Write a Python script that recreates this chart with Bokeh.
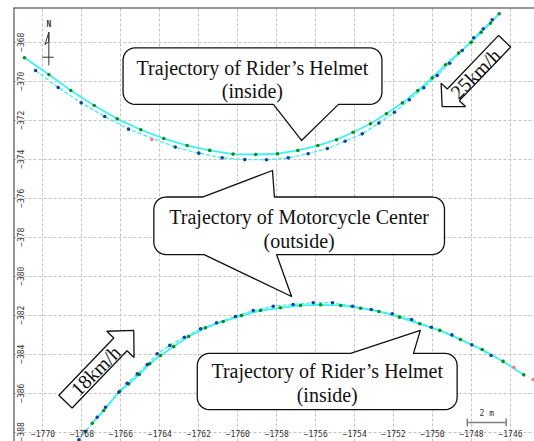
import numpy as np
from bokeh.plotting import figure
from bokeh.models import Range1d, FixedTicker, Span
from bokeh.core.properties import value
from bokeh.embed import file_html
from bokeh.resources import INLINE

# ---------------- data (metres, local map coordinates) ----------------
x_ticks = [-1770, -1768, -1766, -1764, -1762, -1760, -1758, -1756, -1754, -1752, -1750, -1748, -1746]
y_ticks = [-368, -370, -372, -374, -376, -378, -380, -382, -384, -386, -388]

# upper pass (25 km/h): helmet (green, solid) and motorcycle centre (blue, dashed)
upper_green_x = [-1770.95, -1769.70, -1768.57, -1767.37, -1766.19, -1764.98, -1763.80, -1762.60, -1761.44,
                 -1760.24, -1759.08, -1757.96, -1756.92, -1755.89, -1754.93, -1754.08, -1753.19, -1752.37,
                 -1751.55, -1750.76, -1750.02, -1749.34, -1748.66, -1748.02, -1747.51, -1747.03, -1746.58]
upper_green_y = [-368.80, -369.66, -370.48, -371.25, -371.93, -372.49, -372.94, -373.30, -373.55,
                 -373.74, -373.76, -373.72, -373.55, -373.30, -373.00, -372.62, -372.18, -371.67,
                 -371.11, -370.48, -369.83, -369.16, -368.56, -368.00, -367.49, -367.03, -366.54]
upper_blue_x = [-1770.38, -1769.22, -1768.04, -1766.83, -1765.61, -1763.21, -1762.00, -1760.80, -1759.64,
                -1758.53, -1757.41, -1756.39, -1755.40, -1754.49, -1753.61, -1752.76, -1751.96, -1751.19,
                -1750.45, -1749.76, -1749.12, -1748.48, -1747.89, -1747.40, -1746.94]
upper_blue_y = [-369.45, -370.32, -371.11, -371.81, -372.46, -373.38, -373.69, -373.93, -374.02,
                -374.03, -373.93, -373.72, -373.45, -373.08, -372.70, -372.15, -371.59, -370.95,
                -370.34, -369.71, -369.08, -368.43, -367.77, -367.31, -366.85]

# lower pass (18 km/h)
lower_green_x = [-1767.47, -1766.88, -1766.06, -1765.60, -1765.05, -1764.52, -1763.97, -1763.29, -1762.52,
                 -1761.66, -1760.75, -1759.81, -1758.83, -1757.81, -1756.78, -1755.75, -1754.72, -1753.70,
                 -1752.76, -1751.70, -1750.66, -1749.63, -1748.57, -1747.45, -1746.38, -1745.32]
lower_green_y = [-387.54, -386.89, -385.90, -385.52, -385.04, -384.49, -384.07, -383.61, -383.09,
                 -382.65, -382.32, -382.02, -381.76, -381.62, -381.50, -381.47, -381.50, -381.64,
                 -381.81, -382.10, -382.44, -382.78, -383.25, -383.76, -384.37, -385.06]
lower_blue_x = [-1768.16, -1767.82, -1767.22, -1766.79, -1766.11, -1765.68, -1765.16, -1764.65, -1764.14,
                -1763.49, -1762.74, -1761.91, -1761.09, -1760.12, -1759.21, -1758.18, -1757.16, -1756.13,
                -1755.14, -1754.11, -1753.15, -1752.07, -1751.08, -1750.07, -1749.01, -1747.99, -1747.00]
lower_blue_y = [-388.39, -387.95, -387.23, -386.72, -385.95, -385.49, -385.01, -384.53, -383.98,
                -383.55, -383.13, -382.70, -382.39, -382.07, -381.76, -381.54, -381.45, -381.36,
                -381.36, -381.54, -381.71, -381.93, -382.22, -382.62, -383.01, -383.52, -384.07]

pink_x = [-1764.41, -1745.83, -1744.84]
pink_y = [-372.99, -384.67, -385.30]

callout_lines = ["Trajectory of Rider\u2019s Helmet", "(inside)",
                 "Trajectory of Motorcycle Center", "(outside)",
                 "Trajectory of Rider\u2019s Helmet", "(inside)"]
speed_labels = ["25km/h", "18km/h"]
scale_label = "2 m"
north_label = "N"

# ---------------- figure ----------------
X_START, X_END = -1771.514, -1744.769
Y_START, Y_END = -388.477, -366.221

p = figure(width=534, height=441, x_range=Range1d(X_START, X_END), y_range=Range1d(Y_START, Y_END),
           output_backend="svg", toolbar_location=None,
           min_border_left=13, min_border_right=0, min_border_top=7, min_border_bottom=0)
p.outline_line_color = None
p.background_fill_color = "white"

p.xaxis.ticker = FixedTicker(ticks=x_ticks)
p.yaxis.ticker = FixedTicker(ticks=y_ticks)
p.axis.axis_line_color = None
p.axis.major_tick_line_color = None
p.axis.minor_tick_line_color = None
p.axis.major_tick_out = 0
p.axis.major_tick_in = 0
p.axis.minor_tick_out = 0
p.axis.minor_tick_in = 0
p.axis.major_label_text_font = "DejaVu Sans Mono"
p.axis.major_label_text_font_size = "8px"
p.axis.major_label_text_color = "#333333"
p.axis.major_label_standoff = 2
p.yaxis.major_label_orientation = "vertical"
p.xaxis.fixed_location = -387.81
p.yaxis.fixed_location = -1770.85
p.grid.grid_line_color = "#c4c4c4"
p.grid.grid_line_dash = "3 2"
p.grid.grid_line_width = 1

CYAN = "#3cf2f2"
GREEN = "#12891a"
BLUE = "#1c3f97"

# trajectories
p.line(upper_green_x, upper_green_y, line_color=CYAN, line_width=1.8)
p.line(upper_blue_x, upper_blue_y, line_color=CYAN, line_width=1.3, line_dash="4 2")
p.line(lower_green_x, lower_green_y, line_color=CYAN, line_width=1.8)
p.line(lower_blue_x, lower_blue_y, line_color=CYAN, line_width=1.3, line_dash="4 2")
for xs, ys, c in [(upper_green_x, upper_green_y, GREEN), (upper_blue_x, upper_blue_y, BLUE),
                  (lower_green_x, lower_green_y, GREEN), (lower_blue_x, lower_blue_y, BLUE),
                  (pink_x, pink_y, "#ff7a7a")]:
    p.scatter(xs, ys, size=3.6, fill_color=c, line_color=None)


# ---------------- callouts ----------------
def callout(left, right, top, bottom, r, tails):
    xs, ys = [], []
    def arc(cx, cy, a0, a1):
        t = np.linspace(np.radians(a0), np.radians(a1), 8)
        xs.extend(cx + r * np.cos(t)); ys.extend(cy + r * np.sin(t))
    top_tail = tails.get("top")
    bot_tail = tails.get("bottom")
    xs.append(left + r); ys.append(top)
    if top_tail:
        a, b, tx, ty = top_tail
        xs += [a, tx, b]; ys += [top, ty, top]
    arc(right - r, top - r, 90, 0)
    arc(right - r, bottom + r, 0, -90)
    if bot_tail:
        a, b, tx, ty = bot_tail
        xs += [b, tx, a]; ys += [bottom, ty, bottom]
    arc(left + r, bottom + r, -90, -180)
    arc(left + r, top - r, 180, 90)
    return xs, ys


R = 0.62
boxes = [
    (-1765.89, -1752.60, -368.29, -371.19, {"bottom": (-1758.17, -1754.83, -1756.73, -373.04)}),
    (-1764.31, -1749.39, -375.94, -378.89, {"top": (-1761.81, -1758.12, -1758.22, -374.58),
                                            "bottom": (-1761.73, -1758.01, -1757.24, -381.04)}),
    (-1762.08, -1748.74, -383.96, -386.84, {"top": (-1754.21, -1750.98, -1750.63, -382.78)}),
]
for (l, rr, t, b, tails) in boxes:
    bx, by = callout(l, rr, t, b, R, tails)
    p.patch(bx, by, fill_color="white", line_color="#111111", line_width=1.3, line_join="round")

text_x = [-1759.25, -1759.25, -1756.85, -1756.85, -1755.41, -1755.41]
text_y = [-369.30, -370.48, -376.94, -378.17, -384.84, -386.07]
p.text(text_x, text_y, text=callout_lines, text_font=value("Liberation Serif"),
       text_font_size=value("20px"), text_align="center", text_baseline="middle", text_color="#111111")


# ---------------- speed arrows ----------------
def block_arrow(tail, tip, w, hw, hl):
    T = np.array(tail); P = np.array(tip)
    u = (P - T) / np.linalg.norm(P - T)
    n = np.array([-u[1], u[0]])
    B = P - u * hl
    pts = [T + n * w, B + n * w, B + n * hw, P, B - n * hw, B - n * w, T - n * w]
    return [q[0] for q in pts], [q[1] for q in pts]


arrows = [((-1746.30, -367.95), (-1749.51, -371.30), 0.43, 0.87, 0.83),
          ((-1768.845, -386.43), (-1765.34, -382.78), 0.47, 0.97, 0.99)]
for tail, tip, w, hw, hl in arrows:
    ax, ay = block_arrow(tail, tip, w, hw, hl)
    p.patch(ax, ay, fill_color="white", line_color="#111111", line_width=1.3)

p.text([-1747.80, -1767.30], [-369.61, -384.84], text=speed_labels, angle=np.pi / 4,
       text_font=value("Liberation Serif"), text_font_size=value("20px"),
       text_align="center", text_baseline="middle", text_color="#111111")

# ---------------- north arrow ----------------
p.segment(x0=[-1769.70, -1770.04], y0=[-367.49, -368.77], x1=[-1769.70, -1769.45], y1=[-369.19, -368.77],
          line_color="#333333", line_width=1)
p.patch([-1769.70, -1769.90, -1769.70], [-367.49, -368.12, -367.97], fill_color=None,
        line_color="#333333", line_width=1)
p.text([-1769.70], [-367.09], text=[north_label], text_font=value("DejaVu Sans Mono"),
       text_font_size=value("8px"), text_font_style="bold", text_align="center",
       text_baseline="middle", text_color="#333333")

# ---------------- scale bar ----------------
p.segment(x0=[-1748.22, -1748.22, -1746.22], y0=[-387.50, -387.30, -387.30],
          x1=[-1746.22, -1748.22, -1746.22], y1=[-387.50, -387.70, -387.70],
          line_color="#808080", line_width=1.5)
p.text([-1747.22], [-387.05], text=[scale_label], text_font=value("DejaVu Sans Mono"),
       text_font_size=value("8px"), text_align="center", text_baseline="middle", text_color="#333333")

# frame border (left / top)
p.add_layout(Span(location=X_START, dimension="height", line_color="#333333", line_width=2))
p.add_layout(Span(location=Y_END, dimension="width", line_color="#333333", line_width=2))

open("out.html", "w").write(file_html(p, INLINE))
